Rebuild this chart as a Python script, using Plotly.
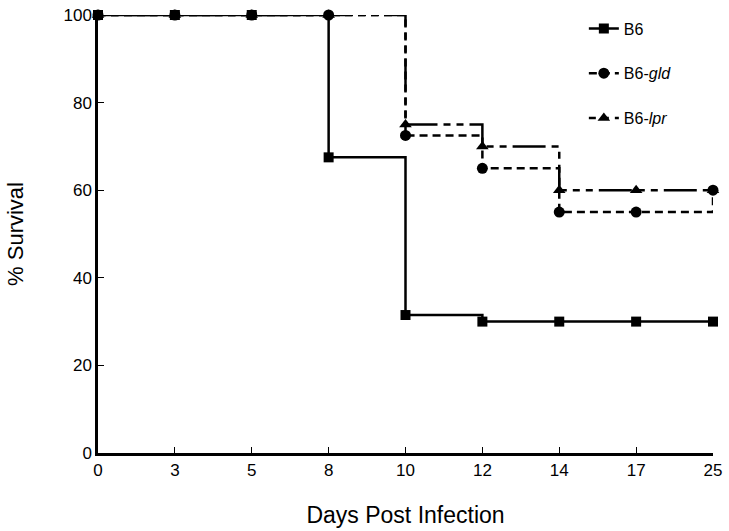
import plotly.graph_objects as go

days = ["0", "3", "5", "8", "10", "12", "14", "17", "25"]
b6 = [100, 100, 100, 67.5, 31.5, 30, 30, 30, 30]
b6_gld = [100, 100, 100, 100, 72.5, 65, 55, 55, 60]
b6_lpr = [100, 100, 100, 100, 75, 70, 60, 60, 60]
y_ticks = [0, 20, 40, 60, 80, 100]

FONT = "Liberation Sans, Arial, sans-serif"

fig = go.Figure()
# drawing order: gld, lpr, B6 (B6 on top); legend order via legendrank
series = [
    ("B6-<i>gld</i>", b6_gld, "circle", "8px,5px", 11, 2),
    ("B6-<i>lpr</i>", b6_lpr, "triangle-up", "7px,6px,7px,6px,33px,6px", 11, 3),
    ("B6", b6, "square", "solid", 10, 1),
]
for name, vals, sym, dash, ms, rank in series:
    fig.add_trace(go.Scatter(
        x=days, y=vals, name=name, mode="lines+markers",
        line=dict(shape="hv", color="black", width=2.5, dash=dash),
        marker=dict(symbol=sym, size=ms, color="black"),
        cliponaxis=False, legendgroup=f"g{rank}", legendrank=rank,
    ))

fig.update_layout(
    width=729, height=531,
    margin=dict(l=98, r=16, t=15, b=78, autoexpand=False),
    paper_bgcolor="white", plot_bgcolor="white",
    font=dict(family=FONT, color="black", size=17),
    showlegend=True,
    legend=dict(x=0.79, y=1.008, xanchor="left", yanchor="top",
                font=dict(size=16, family=FONT), tracegroupgap=21,
                bgcolor="rgba(0,0,0,0)", itemwidth=30, traceorder="grouped"),
    xaxis=dict(type="category", range=[0, 8], showline=True, linecolor="black",
               linewidth=2.5, ticks="inside", ticklen=6, tickcolor="black",
               tickwidth=1, showgrid=False, zeroline=False, automargin=False,
               title=dict(text="Days Post Infection", font=dict(size=23), standoff=28),
               tickfont=dict(size=17)),
    yaxis=dict(range=[0, 100], tickvals=y_ticks, showline=True, linecolor="black",
               linewidth=2.5, ticks="inside", ticklen=6, tickcolor="black",
               tickwidth=1, showgrid=False, zeroline=False, automargin=False,
               title=dict(text="% Survival", font=dict(size=22), standoff=34),
               tickfont=dict(size=17)),
)

fig.write_html("out.html", config={"displayModeBar": False},
               post_script="document.body.style.margin='0';")
